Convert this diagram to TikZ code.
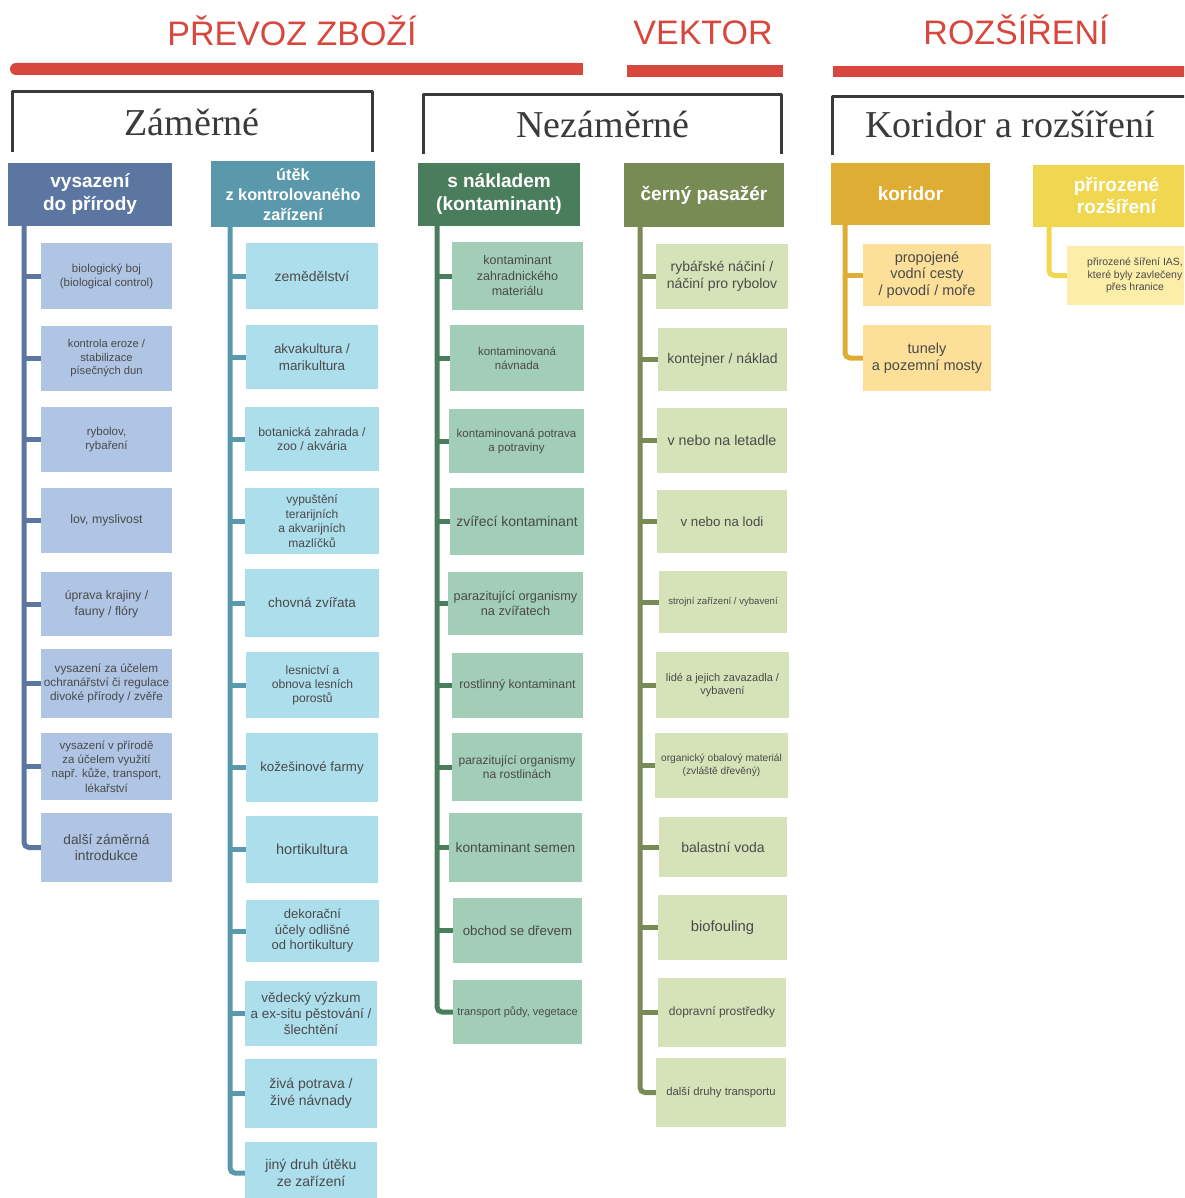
\documentclass[tikz,border=0pt]{standalone}
\usepackage{fontspec}
\setmainfont{Liberation Sans}
\newfontfamily\serifh{Liberation Serif}
\definecolor{redc}{HTML}{D8473E}
\definecolor{brkc}{HTML}{3A3A3A}
\definecolor{txtc}{HTML}{4A4A4A}
\definecolor{c1h}{HTML}{5B77A1}
\definecolor{c1l}{HTML}{AFC5E3}
\definecolor{c2h}{HTML}{5A98AB}
\definecolor{c2l}{HTML}{ADDEEC}
\definecolor{c3h}{HTML}{4A7D5C}
\definecolor{c3l}{HTML}{A2CDB6}
\definecolor{c4h}{HTML}{788B55}
\definecolor{c4l}{HTML}{D6E3B8}
\definecolor{c5h}{HTML}{DEAE34}
\definecolor{c5l}{HTML}{FCDF99}
\definecolor{c6h}{HTML}{F1D64F}
\definecolor{c6l}{HTML}{FCEDA9}
\newcommand\bx[9]{\node[#6, font=\fontsize{#7}{#8}\selectfont, minimum width={(#4-#2)*1pt}, minimum height={(#5-#3)*1pt}] (#1) at ({(#2+#4)/2},{(#3+#5)/2}) {#9};}
\newcommand\hb[9]{\node[#6, font=\fontsize{#7}{#8}\selectfont\bfseries, minimum width={(#4-#2)*1pt}, minimum height={(#5-#3)*1pt}] (#1) at ({(#2+#4)/2},{(#3+#5)/2}) {#9};}
\begin{document}
\begin{tikzpicture}[x=1pt,y=-1pt,
 leaf/.style={rectangle, inner sep=0pt, align=center, text=txtc},
 hdr/.style={rectangle, inner sep=0pt, align=center, text=white},
 trk/.style={line width=5pt, rounded corners=5pt},
 brk/.style={draw=brkc, line width=3pt, line join=round},
 ttl/.style={anchor=base, text=redc, font=\fontsize{34}{40}\selectfont},
 sec/.style={anchor=base, text=brkc, font=\serifh\fontsize{38}{44}\selectfont},
]
\path[use as bounding box, fill=white] (0,0) rectangle (1184,1198);
\clip (0,0) rectangle (1184,1198);

% titles and bars
\node[ttl] (t1) at (292,46) {PŘEVOZ ZBOŽÍ};
\node[ttl] (t2) at (703,45) {VEKTOR};
\node[ttl] (t3) at (1016,45) {ROZŠÍŘENÍ};
\fill[redc, rounded corners=6pt] (10,63) rectangle (583,75);
\fill[redc] (570,63) rectangle (583,75);
\fill[redc] (627,65) rectangle (783,77);
\fill[redc] (833,66) rectangle (1190,77);

% brackets
\draw[brk] (12,152) -- (12,92) -- (372,92) -- (372,152);
\draw[brk] (423,154) -- (423,95) -- (781,95) -- (781,154);
\draw[brk] (832,155) -- (832,97) -- (1190,97);
\node[sec] (s1) at (192,136) {Záměrné};
\node[sec] (s2) at (603,138) {Nezáměrné};
\node[sec] (s3) at (1010,138) {Koridor a rozšíření};

% headers
\hb{h1}{8}{163}{172}{226}{hdr,fill=c1h}{19}{23}{vysazení\\do přírody}
\hb{h2}{211}{161}{375}{227}{hdr,fill=c2h}{16.3}{20}{útěk\\z kontrolovaného\\zařízení}
\hb{h3}{418}{163}{580}{226}{hdr,fill=c3h}{19}{23}{s nákladem\\(kontaminant)}
\hb{h4}{624}{163}{784}{227}{hdr,fill=c4h}{19}{23}{černý pasažér}
\hb{h5}{831}{163}{990}{225}{hdr,fill=c5h}{19}{23}{koridor}
\hb{h6}{1033}{165}{1200}{227}{hdr,fill=c6h}{19}{22}{přirozené\\rozšíření}

% column 1
\bx{b11}{41}{243}{172}{309}{leaf,fill=c1l}{11.5}{14}{biologický boj\\(biological control)}
\bx{b12}{41}{326}{172}{391}{leaf,fill=c1l}{11.2}{13.5}{kontrola eroze /\\stabilizace\\písečných dun}
\bx{b13}{41}{407}{172}{472}{leaf,fill=c1l}{11.5}{14}{rybolov,\\rybaření}
\bx{b14}{41}{488}{172}{553}{leaf,fill=c1l}{12.3}{14}{lov, myslivost}
\bx{b15}{41}{572}{172}{636}{leaf,fill=c1l}{12.3}{15.5}{úprava krajiny /\\fauny / flóry}
\bx{b16}{41}{649}{172}{718}{leaf,fill=c1l}{11.8}{14}{vysazení za účelem\\ochranářství či regulace\\divoké přírody / zvěře}
\bx{b17}{41}{733}{172}{800}{leaf,fill=c1l}{11.5}{14.3}{vysazení v přírodě\\za účelem využití\\např. kůže, transport,\\lékařství}
\bx{b18}{41}{813}{172}{882}{leaf,fill=c1l}{13.7}{16.5}{další záměrná\\introdukce}

% column 2
\bx{b21}{246}{243}{378}{309}{leaf,fill=c2l}{14}{16}{zemědělství}
\bx{b22}{246}{325}{378}{389}{leaf,fill=c2l}{13.4}{16.5}{akvakultura /\\marikultura}
\bx{b23}{245}{407}{379}{471}{leaf,fill=c2l}{12.3}{14.5}{botanická zahrada /\\zoo / akvária}
\bx{b24}{245}{488}{379}{554}{leaf,fill=c2l}{12}{14.5}{vypuštění\\terarijních\\a akvarijních\\mazlíčků}
\bx{b25}{245}{569}{379}{637}{leaf,fill=c2l}{13.5}{16}{chovná zvířata}
\bx{b26}{246}{652}{379}{718}{leaf,fill=c2l}{12.1}{14}{lesnictví a\\obnova lesních\\porostů}
\bx{b27}{246}{733}{378}{802}{leaf,fill=c2l}{13.3}{16}{kožešinové farmy}
\bx{b28}{246}{816}{378}{883}{leaf,fill=c2l}{14.5}{16}{hortikultura}
\bx{b29}{246}{900}{379}{962}{leaf,fill=c2l}{13}{15.5}{dekorační\\účely odlišné\\od hortikultury}
\bx{b210}{245}{981}{377}{1046}{leaf,fill=c2l}{13.5}{16}{vědecký výzkum\\a ex-situ pěstování /\\šlechtění}
\bx{b211}{245}{1059}{377}{1128}{leaf,fill=c2l}{14}{17}{živá potrava /\\živé návnady}
\bx{b212}{245}{1142}{377}{1204}{leaf,fill=c2l}{14}{17}{jiný druh útěku\\ze zařízení}

% column 3
\bx{b31}{452}{242}{583}{310}{leaf,fill=c3l}{12.5}{15.5}{kontaminant\\zahradnického\\materiálu}
\bx{b32}{450}{325}{584}{391}{leaf,fill=c3l}{11.5}{14}{kontaminovaná\\návnada}
\bx{b33}{449}{409}{584}{473}{leaf,fill=c3l}{11.5}{14}{kontaminovaná potrava\\a potraviny}
\bx{b34}{450}{488}{584}{555}{leaf,fill=c3l}{14}{16}{zvířecí kontaminant}
\bx{b35}{448}{572}{583}{635}{leaf,fill=c3l}{12.7}{15}{parazitující organismy\\na zvířatech}
\bx{b36}{452}{653}{583}{718}{leaf,fill=c3l}{12.3}{15}{rostlinný kontaminant}
\bx{b37}{452}{733}{582}{801}{leaf,fill=c3l}{12}{14.5}{parazitující organismy\\na rostlinách}
\bx{b38}{449}{813}{582}{882}{leaf,fill=c3l}{13.7}{16}{kontaminant semen}
\bx{b39}{453}{898}{582}{963}{leaf,fill=c3l}{13.3}{16}{obchod se dřevem}
\bx{b310}{453}{980}{582}{1044}{leaf,fill=c3l}{11}{13}{transport půdy, vegetace}

% column 4
\bx{b41}{656}{244}{788}{309}{leaf,fill=c4l}{14}{16.5}{rybářské náčiní /\\náčiní pro rybolov}
\bx{b42}{658}{328}{787}{391}{leaf,fill=c4l}{14}{16}{kontejner / náklad}
\bx{b43}{657}{408}{787}{473}{leaf,fill=c4l}{14.3}{16}{v nebo na letadle}
\bx{b44}{657}{490}{787}{553}{leaf,fill=c4l}{13.3}{16}{v nebo na lodi}
\bx{b45}{659}{571}{787}{633}{leaf,fill=c4l}{9.6}{12}{strojní zařízení / vybavení}
\bx{b46}{656}{652}{789}{718}{leaf,fill=c4l}{11}{13.5}{lidé a jejich zavazadla /\\vybavení}
\bx{b47}{655}{733}{788}{798}{leaf,fill=c4l}{10.2}{12.5}{organický obalový materiál\\(zvláště dřevěný)}
\bx{b48}{659}{817}{787}{877}{leaf,fill=c4l}{14}{16}{balastní voda}
\bx{b49}{658}{895}{787}{960}{leaf,fill=c4l}{14.8}{16}{biofouling}
\bx{b410}{658}{978}{786}{1047}{leaf,fill=c4l}{12}{14}{dopravní prostředky}
\bx{b411}{656}{1058}{786}{1127}{leaf,fill=c4l}{11.3}{14}{další druhy transportu}

% column 5 and 6
\bx{b51}{863}{244}{991}{306}{leaf,fill=c5l}{14.5}{16.5}{propojené\\vodní cesty\\/ povodí / moře}
\bx{b52}{863}{325}{991}{391}{leaf,fill=c5l}{14.5}{17}{tunely\\a pozemní mosty}
\bx{b61}{1067}{246}{1203}{305}{leaf,fill=c6l}{10.5}{12.5}{přirozené šíření IAS,\\které byly zavlečeny\\přes hranice}

% trunk x positions
\coordinate (k1) at (24,0);
\coordinate (k2) at (230,0);
\coordinate (k3) at (437,0);
\coordinate (k4) at (640,0);
\coordinate (k5) at (845,0);
\coordinate (k6) at (1049,0);

% trunks and ticks
\draw[trk,draw=c1h] (h1.south -| k1) |- (b18.west);
\foreach \n in {b11,b12,b13,b14,b15,b16,b17} \draw[trk,draw=c1h] (\n.west -| k1) -- (\n.west);
\draw[trk,draw=c2h] (h2.south -| k2) |- (b212.west);
\foreach \n in {b21,b22,b23,b24,b25,b26,b27,b28,b29,b210,b211} \draw[trk,draw=c2h] (\n.west -| k2) -- (\n.west);
\draw[trk,draw=c3h] (h3.south -| k3) |- (b310.west);
\foreach \n in {b31,b32,b33,b34,b35,b36,b37,b38,b39} \draw[trk,draw=c3h] (\n.west -| k3) -- (\n.west);
\draw[trk,draw=c4h] (h4.south -| k4) |- (b411.west);
\foreach \n in {b41,b42,b43,b44,b45,b46,b47,b48,b49,b410} \draw[trk,draw=c4h] (\n.west -| k4) -- (\n.west);
\draw[trk,draw=c5h] (h5.south -| k5) |- (b52.west);
\draw[trk,draw=c5h] (b51.west -| k5) -- (b51.west);
\draw[trk,draw=c6h] (h6.south -| k6) |- (b61.west);
\end{tikzpicture}
\end{document}
